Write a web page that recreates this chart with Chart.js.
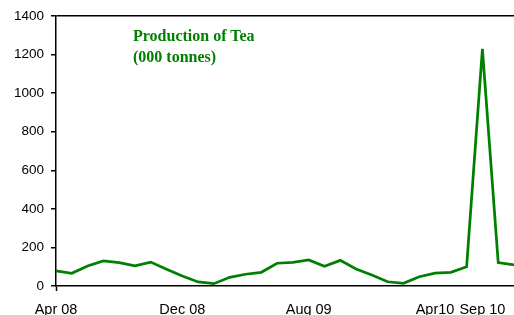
<!DOCTYPE html>
<html><head><meta charset="utf-8">
<script src="https://cdn.jsdelivr.net/npm/chart.js@4/dist/chart.umd.min.js"></script>
<style>
html,body{margin:0;padding:0;background:#fff;overflow:hidden}
#wrap{position:relative;width:514px;height:315px}
#title{position:absolute;left:133px;top:25px;font:bold 16px "Liberation Serif","Times New Roman",serif;color:#008000;line-height:21px;white-space:nowrap}
</style></head><body>
<div id="wrap"><canvas id="c"></canvas><div id="title">Production of Tea<br>(000 tonnes)</div></div>
<script>
const months = ["Apr 08","May 08","Jun 08","Jul 08","Aug 08","Sep 08","Oct 08","Nov 08","Dec 08","Jan 09","Feb 09","Mar 09",
  "Apr 09","May 09","Jun 09","Jul 09","Aug 09","Sep 09","Oct 09","Nov 09","Dec 09","Jan 10","Feb 10","Mar 10",
  "Apr 10","May 10","Jun 10","Jul 10","Aug 10","Sep 10"];
const production = [78,66,104,130,121,104,124,87,52,21,12,45,61,71,118,123,135,102,133,88,57,22,14,48,67,71,100,1230,121,109];
const xTickIndex = [0,8,16,24,27];
const xTickText = ["Apr 08","Dec 08","Aug 09","Apr10","Sep 10"];
const xTickMarkIndex = [0,8,16,24];
const yMin = 0, yMax = 1400, yStep = 200;

const GREEN = '#008000';
new Chart(document.getElementById('c'), {
  type: 'line',
  data: {
    labels: months,
    datasets: [{
      data: production,
      borderColor: GREEN,
      borderWidth: 2.75,
      pointRadius: 0,
      tension: 0,
      fill: false
    }]
  },
  options: {
    responsive: true,
    maintainAspectRatio: false,
    animation: false,
    layout: { padding: { top: 16, right: 0, left: 0, bottom: 0 } },
    plugins: { legend: { display: false }, tooltip: { enabled: false }, title: { display: false } },
    scales: {
      x: {
        type: 'category',
        offset: false,
        afterFit: s => { s.height = 29; s.paddingRight = 0; },
        border: { display: true, color: '#000', width: 1.5 },
        grid: {
          drawOnChartArea: false,
          drawTicks: true,
          tickLength: 5,
          tickWidth: 1.5,
          tickColor: ctx => xTickMarkIndex.includes(ctx.index) ? '#000' : 'rgba(0,0,0,0)'
        },
        ticks: {
          autoSkip: false,
          maxRotation: 0,
          minRotation: 0,
          padding: 10,
          color: '#000',
          font: { family: '"Liberation Sans", Arial, sans-serif', size: 14.5 },
          callback: function(v, i) {
            const k = xTickIndex.indexOf(i);
            return k >= 0 ? xTickText[k] : null;
          }
        }
      },
      y: {
        min: yMin, max: yMax,
        afterFit: s => { s.width = 56; },
        border: { display: true, color: '#000', width: 1.5 },
        grid: {
          drawOnChartArea: true,
          color: ctx => (ctx.tick && ctx.tick.value === yMax) ? '#000' : 'rgba(0,0,0,0)',
          lineWidth: 1.5,
          tickLength: 5,
          tickWidth: 1.5,
          tickColor: '#000'
        },
        ticks: {
          stepSize: yStep,
          padding: 7,
          color: '#000',
          font: { family: '"Liberation Sans", Arial, sans-serif', size: 13.5 },
          callback: v => String(v)
        }
      }
    }
  }
});
</script>
</body></html>
